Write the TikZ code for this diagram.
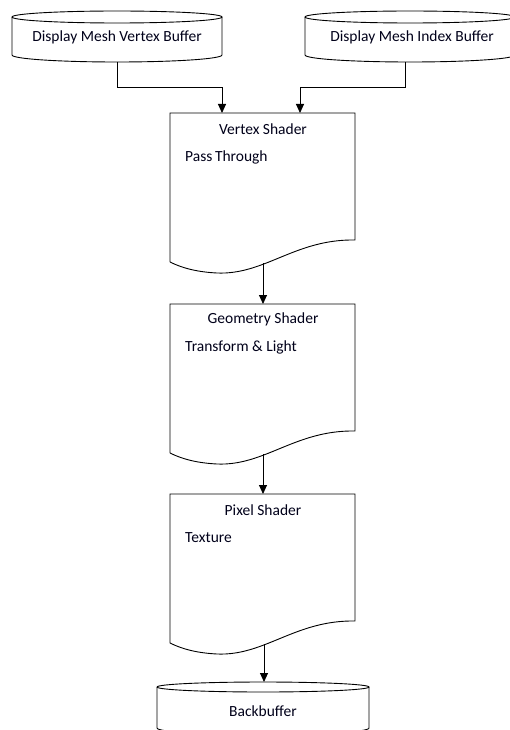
\documentclass[tikz,border=0pt]{standalone}
\usepackage{fontspec}
\setmainfont{Carlito}
\usetikzlibrary{arrows.meta}

\tikzset{
  outline/.style={draw=black, line width=0.9pt},
  flow/.style={draw=black, line width=0.9pt, -{Triangle[length=9pt,width=8pt]}},
  txt/.style={inner sep=0pt, text=black!90!blue, font=\fontsize{15.5}{18}\selectfont},
  % document shape: top-left corner at the pic origin, 185 wide
  pics/docshape/.style={code={
    \draw[outline] (0,149) -- (0,0) -- (185,0) -- (185,127)
      .. controls (125,126) and (95,162) .. (47,160)
      .. controls (27,159) and (12,155) .. (0,149);
  }}
}

\begin{document}
\begin{tikzpicture}[x=1pt, y=-1pt]
\useasboundingbox (0,0) rectangle (509,730);

% --- input buffers (cylinders) ---
\draw[outline] (12,17) arc[start angle=180, end angle=-180, x radius=105, y radius=6];
\draw[outline] (12,17) -- (12,55) arc[start angle=180, end angle=360, x radius=105, y radius=-7] -- (222,17);
\node[txt] (vbuf) at (117,37) {Display Mesh Vertex Buffer};
\coordinate (vbuf-out) at (117,62);

\draw[outline] (305,17) arc[start angle=180, end angle=-180, x radius=105, y radius=6];
\draw[outline] (305,17) -- (305,55) arc[start angle=180, end angle=360, x radius=105, y radius=-7] -- (515,17);
\node[txt] (ibuf) at (412,37) {Display Mesh Index Buffer};
\coordinate (ibuf-out) at (405,62);

% --- shader stages ---
\pic at (170,113) {docshape};
\node[txt] (vs) at (263,129) {Vertex Shader};
\node[txt, anchor=west] (vs-body) at (185,157) {Pass\,Through};
\coordinate (vs-in1) at (222,113);
\coordinate (vs-in2) at (300,113);
\coordinate (vs-out) at (263,263);

\pic at (170,304) {docshape};
\node[txt] (gs) at (263,319) {Geometry Shader};
\node[txt, anchor=west] (gs-body) at (185,347) {Transform \& Light};
\coordinate (gs-in) at (263,304);
\coordinate (gs-out) at (263,454);

\pic at (170,494) {docshape};
\node[txt] (ps) at (263,510) {Pixel Shader};
\node[txt, anchor=west] (ps-body) at (185,538) {Texture};
\coordinate (ps-in) at (263,494);
\coordinate (ps-out) at (264,644);

% --- output buffer ---
\draw[outline] (157,687) arc[start angle=180, end angle=-180, x radius=106, y radius=5];
\draw[outline] (157,687) -- (157,728) arc[start angle=180, end angle=360, x radius=106, y radius=-7] -- (369,687);
\node[txt] (bb) at (263,711) {Backbuffer};
\coordinate (bb-in) at (264,682);

% --- connectors ---
\draw[flow] (vbuf-out) -- ++(0,25) -| (vs-in1);
\draw[flow] (ibuf-out) -- ++(0,25) -| (vs-in2);
\draw[flow] (vs-out) -- (gs-in);
\draw[flow] (gs-out) -- (ps-in);
\draw[flow] (ps-out) -- (bb-in);
\end{tikzpicture}
\end{document}
